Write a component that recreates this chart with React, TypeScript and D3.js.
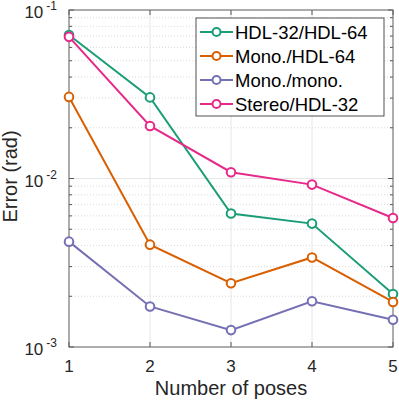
import React, { useEffect, useRef } from 'react';
import * as d3 from 'd3';

const poses = [1, 2, 3, 4, 5];
const seriesNames = ['HDL-32/HDL-64', 'Mono./HDL-64', 'Mono./mono.', 'Stereo/HDL-32'];
const hdl32hdl64 = [0.071, 0.0303, 0.0062, 0.0054, 0.00206];
const monoHdl64 = [0.0305, 0.00405, 0.00239, 0.0034, 0.00185];
const monoMono = [0.00422, 0.00174, 0.00126, 0.00187, 0.00145];
const stereoHdl32 = [0.0693, 0.0205, 0.0109, 0.0092, 0.00583];
const colors = ['#1b9e77', '#d95f02', '#7570b3', '#e7298a'];
const yTickExps = [-1, -2, -3];

export default function App() {
  const svgRef = useRef<SVGSVGElement>(null);

  useEffect(() => {
    const svg = d3.select(svgRef.current);
    svg.selectAll('*').remove();

    const width = 399, height = 403;
    const margin = { top: 10, right: 6, bottom: 56, left: 69 };
    const innerWidth = width - margin.left - margin.right;
    const innerHeight = height - margin.top - margin.bottom;
    const font = 'Liberation Sans, Arial, sans-serif';

    const chart = svg.append('g')
      .attr('transform', `translate(${margin.left},${margin.top})`);

    const x = d3.scaleLinear().domain([1, 5]).range([0, innerWidth]);
    const y = d3.scaleLog().domain([1e-3, 1e-1]).range([innerHeight, 0]);

    // minor grid (dotted)
    const minors: number[] = [];
    [1e-3, 1e-2].forEach(base => {
      for (let k = 2; k <= 9; k++) minors.push(base * k);
    });
    chart.selectAll('.minor')
      .data(minors)
      .join('line')
        .attr('x1', 0).attr('x2', innerWidth)
        .attr('y1', d => y(d)).attr('y2', d => y(d))
        .attr('stroke', '#d0d0d0')
        .attr('stroke-width', 0.8)
        .attr('stroke-dasharray', '1,2');

    // major grid
    chart.selectAll('.hgrid')
      .data(yTickExps.map(e => Math.pow(10, e)))
      .join('line')
        .attr('x1', 0).attr('x2', innerWidth)
        .attr('y1', d => y(d)).attr('y2', d => y(d))
        .attr('stroke', '#e6e6e6')
        .attr('stroke-width', 1);
    chart.selectAll('.vgrid')
      .data(poses)
      .join('line')
        .attr('x1', d => x(d)).attr('x2', d => x(d))
        .attr('y1', 0).attr('y2', innerHeight)
        .attr('stroke', '#e6e6e6')
        .attr('stroke-width', 1);

    // ticks (inward, both sides)
    const allY = [...minors, ...yTickExps.map(e => Math.pow(10, e))];
    allY.forEach(v => {
      const len = minors.includes(v) ? 3 : 5;
      chart.append('line').attr('x1', 0).attr('x2', len)
        .attr('y1', y(v)).attr('y2', y(v)).attr('stroke', '#555');
      chart.append('line').attr('x1', innerWidth).attr('x2', innerWidth - len)
        .attr('y1', y(v)).attr('y2', y(v)).attr('stroke', '#555');
    });
    poses.forEach(p => {
      chart.append('line').attr('x1', x(p)).attr('x2', x(p))
        .attr('y1', innerHeight).attr('y2', innerHeight - 5).attr('stroke', '#555');
      chart.append('line').attr('x1', x(p)).attr('x2', x(p))
        .attr('y1', 0).attr('y2', 5).attr('stroke', '#555');
    });

    // box
    chart.append('rect')
      .attr('width', innerWidth).attr('height', innerHeight)
      .attr('fill', 'none').attr('stroke', '#666').attr('stroke-width', 1);

    // tick labels
    poses.forEach(p => {
      chart.append('text')
        .attr('x', x(p)).attr('y', innerHeight + 25)
        .attr('text-anchor', 'middle')
        .attr('font-family', font).attr('font-size', 17)
        .attr('fill', '#262626')
        .text(p);
    });
    yTickExps.forEach(e => {
      const t = chart.append('text')
        .attr('x', -12).attr('y', y(Math.pow(10, e)) + 8)
        .attr('text-anchor', 'end')
        .attr('font-family', font).attr('font-size', 17)
        .attr('fill', '#262626');
      t.append('tspan').text('10');
      t.append('tspan').attr('dy', -8).attr('font-size', 12).attr('dx', 3).text(`-${-e}`);
    });

    // axis labels
    svg.append('text')
      .attr('x', margin.left + innerWidth / 2).attr('y', height - 8)
      .attr('text-anchor', 'middle')
      .attr('font-family', font).attr('font-size', 20)
      .attr('fill', '#262626')
      .text('Number of poses');
    svg.append('text')
      .attr('transform', 'rotate(-90)')
      .attr('x', -(margin.top + innerHeight / 2) + 2).attr('y', 17)
      .attr('text-anchor', 'middle')
      .attr('font-family', font).attr('font-size', 20)
      .attr('fill', '#262626')
      .text('Error (rad)');

    // series
    const allSeries = [hdl32hdl64, monoHdl64, monoMono, stereoHdl32];
    const line = d3.line<number>()
      .x((_, i) => x(poses[i]))
      .y(d => y(d));
    allSeries.forEach((vals, si) => {
      chart.append('path')
        .datum(vals)
        .attr('d', line)
        .attr('fill', 'none')
        .attr('stroke', colors[si])
        .attr('stroke-width', 2);
      chart.selectAll(`.pt${si}`)
        .data(vals)
        .join('circle')
          .attr('cx', (_, i) => x(poses[i]))
          .attr('cy', d => y(d))
          .attr('r', 4.3)
          .attr('fill', '#fff')
          .attr('stroke', colors[si])
          .attr('stroke-width', 2);
    });

    // legend
    const lg = svg.append('g').attr('transform', 'translate(196,18)');
    lg.append('rect')
      .attr('width', 188).attr('height', 98)
      .attr('fill', '#fff').attr('stroke', '#262626').attr('stroke-width', 0.8);
    seriesNames.forEach((name, i) => {
      const cy = 14 + i * 24;
      lg.append('line').attr('x1', 4).attr('x2', 37)
        .attr('y1', cy).attr('y2', cy)
        .attr('stroke', colors[i]).attr('stroke-width', 2);
      lg.append('circle').attr('cx', 20.5).attr('cy', cy).attr('r', 4)
        .attr('fill', '#fff').attr('stroke', colors[i]).attr('stroke-width', 2);
      lg.append('text')
        .attr('x', 39).attr('y', cy + 6.5)
        .attr('font-family', font).attr('font-size', 18.5)
        .attr('fill', '#000')
        .text(name);
    });
  }, []);

  return (
    <svg ref={svgRef} width={399} height={403}
      style={{ position: 'absolute', left: 0, top: 0, background: '#fff' }} />
  );
}
